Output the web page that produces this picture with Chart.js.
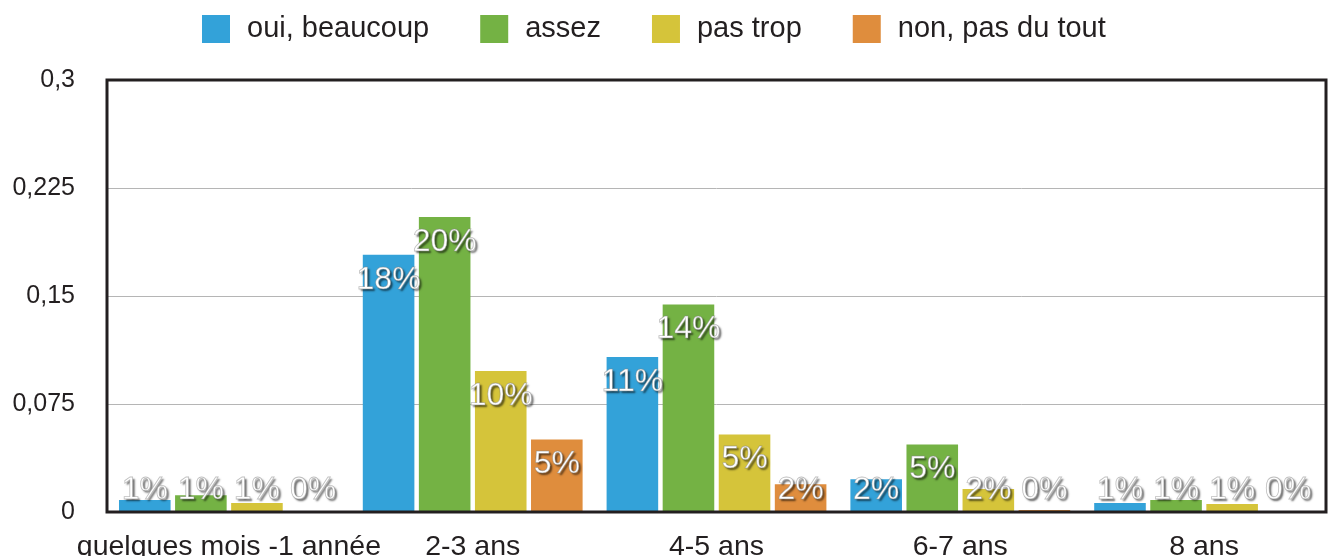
<!DOCTYPE html>
<html>
<head>
<meta charset="utf-8">
<script src="https://cdn.jsdelivr.net/npm/chart.js@4"></script>
<style>
  html, body { margin: 0; padding: 0; background: #fff; }
  #wrap { width: 1330px; height: 559px; }
</style>
</head>
<body>
<div id="wrap"><canvas id="myChart" width="1330" height="559"></canvas></div>
<script>
var categories = ['quelques mois -1 année', '2-3 ans', '4-5 ans', '6-7 ans', '8 ans'];
var seriesNames = ['oui, beaucoup', 'assez', 'pas trop', 'non, pas du tout'];
var ouiBeaucoup = [0.0083, 0.1786, 0.1076, 0.0228, 0.0062];
var assez = [0.0117, 0.2048, 0.1441, 0.0469, 0.0083];
var pasTrop = [0.0062, 0.0979, 0.0538, 0.0159, 0.0055];
var nonPasDuTout = [0.0002, 0.0503, 0.0193, 0.0014, 0.0002];
var yTicks = [0, 0.075, 0.15, 0.225, 0.3];
var colors = ['#33a2d9', '#74b244', '#d5c43a', '#df8d3d'];

var textColor = '#231f20';
var fontName = "'Liberation Sans', Arial, sans-serif";

// legend row across the top: square, gap, name
var topLegend = {
    id: 'topLegend',
    afterDraw: function(chart) {
        var ctx = chart.ctx;
        var x = 202, yMid = 29;
        ctx.save();
        ctx.font = '29px ' + fontName;
        ctx.textBaseline = 'middle';
        ctx.textAlign = 'left';
        chart.data.datasets.forEach(function(ds) {
            ctx.fillStyle = ds.backgroundColor;
            ctx.fillRect(x, yMid - 14, 28, 28);
            ctx.fillStyle = textColor;
            ctx.fillText(ds.label, x + 45, yMid);
            x += 45 + ctx.measureText(ds.label).width + 51;
        });
        ctx.restore();
    }
};

// black frame around the plot area
var framePlugin = {
    id: 'frame',
    afterDatasetsDraw: function(chart) {
        var a = chart.chartArea, ctx = chart.ctx;
        ctx.save();
        ctx.strokeStyle = textColor;
        ctx.lineWidth = 3;
        ctx.strokeRect(a.left, a.top, a.right - a.left, a.bottom - a.top);
        ctx.restore();
    }
};

// percentage labels: white with a grey shadow, near the top of each bar
var valueLabels = {
    id: 'valueLabels',
    afterDraw: function(chart) {
        var ctx = chart.ctx;
        var bottom = chart.scales.y.bottom;
        ctx.save();
        ctx.font = '32px ' + fontName;
        ctx.textAlign = 'center';
        ctx.textBaseline = 'middle';
        chart.data.datasets.forEach(function(ds, i) {
            chart.getDatasetMeta(i).data.forEach(function(bar, j) {
                var txt = Math.round(ds.data[j] * 100) + '%';
                var y = Math.min(bar.y + 25, bottom - 22);
                ctx.shadowColor = 'rgba(0,0,0,0.6)';
                ctx.shadowBlur = 2;
                ctx.shadowOffsetX = 2;
                ctx.shadowOffsetY = 2;
                ctx.fillStyle = '#ffffff';
                ctx.fillText(txt, bar.x, y);
                ctx.shadowColor = 'transparent';
                ctx.strokeStyle = 'rgba(130,130,130,0.5)';
                ctx.lineWidth = 0.8;
                ctx.strokeText(txt, bar.x, y);
            });
        });
        ctx.restore();
    }
};

var allSeries = [ouiBeaucoup, assez, pasTrop, nonPasDuTout];
var ctx = document.getElementById('myChart').getContext('2d');
var chart = new Chart(ctx, {
    type: 'bar',
    data: {
        labels: categories,
        datasets: seriesNames.map(function(name, i) {
            return {
                label: name,
                data: allSeries[i],
                backgroundColor: colors[i],
                borderWidth: 0,
                barPercentage: 0.92,
                categoryPercentage: 0.92
            };
        })
    },
    plugins: [topLegend, framePlugin, valueLabels],
    options: {
        responsive: false,
        animation: false,
        layout: { padding: { left: 0, right: 4, top: 80, bottom: 0 } },
        plugins: {
            tooltip: { enabled: false },
            legend: { display: false }
        },
        scales: {
            x: {
                grid: { display: false },
                border: { display: false },
                ticks: {
                    color: textColor,
                    padding: 10,
                    maxRotation: 0,
                    autoSkip: false,
                    font: { family: fontName, size: 28.5 }
                },
                afterFit: function(scale) { scale.height = 44; }
            },
            y: {
                min: 0,
                max: 0.3,
                border: { display: false },
                grid: { color: '#b5b5b5', lineWidth: 1, drawTicks: false },
                afterBuildTicks: function(scale) {
                    scale.ticks = yTicks.map(function(v) { return { value: v }; });
                },
                ticks: {
                    color: textColor,
                    padding: 32,
                    font: { family: fontName, size: 25 },
                    callback: function(v) { return String(v).replace('.', ','); }
                },
                afterFit: function(scale) { scale.width = 107; }
            }
        }
    }
});
</script>
</body>
</html>
